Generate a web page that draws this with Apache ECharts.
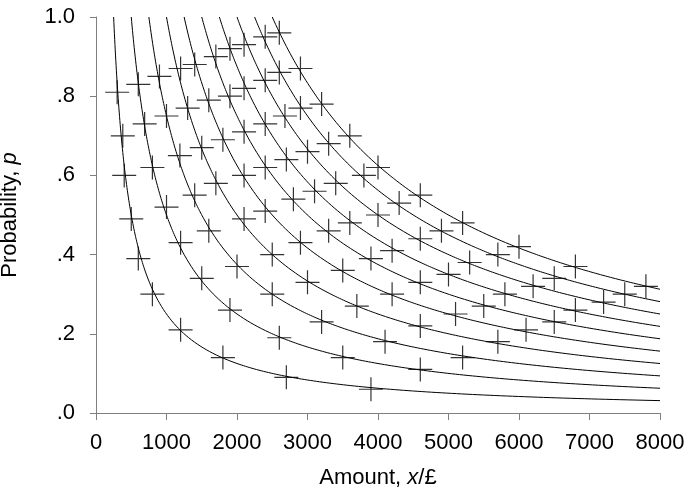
<!DOCTYPE html>
<html>
<head>
<meta charset="utf-8">
<script src="https://cdn.jsdelivr.net/npm/echarts@6/dist/echarts.min.js"></script>
<style>
  html, body { margin: 0; padding: 0; background: #fff; }
  #chart { width: 686px; height: 498px; }
</style>
</head>
<body>
<div id="chart"></div>
<script>
// indifference curves p = k / x, one per expected value k
const curveK = [250, 500, 750, 1000, 1250, 1500, 1750, 2000, 2250, 2500]

// crosses, one row per curve (same order as curveK)
const crossX = [
  [300, 380, 400, 500, 600, 800, 1200, 1800, 2700, 3900],
  [600, 690, 800, 1000, 1200, 1500, 1900, 2600, 3500, 4600],
  [900, 1000, 1190, 1400, 1600, 2000, 2500, 3200, 4100, 5200],
  [1200, 1300, 1500, 1700, 2100, 2500, 3000, 3700, 4600, 5700],
  [1400, 1600, 1800, 2100, 2400, 2900, 3500, 4200, 5100, 6100],
  [1700, 1900, 2100, 2400, 2800, 3300, 3900, 4600, 5500, 6500],
  [1900, 2100, 2400, 2700, 3100, 3600, 4200, 5000, 5800, 6800],
  [2100, 2400, 2680, 3000, 3400, 4000, 4600, 5300, 6200, 7200],
  [2400, 2600, 2900, 3300, 3800, 4300, 4900, 5700, 6500, 7500],
  [2600, 2900, 3200, 3600, 4000, 4600, 5200, 6000, 6800, 7800]
]
const crossP = [
  [0.81, 0.70, 0.60, 0.49, 0.39, 0.30, 0.21, 0.14, 0.09, 0.06],
  [0.83, 0.73, 0.62, 0.52, 0.43, 0.34, 0.26, 0.19, 0.14, 0.11],
  [0.85, 0.75, 0.65, 0.55, 0.46, 0.37, 0.30, 0.23, 0.18, 0.14],
  [0.87, 0.77, 0.67, 0.58, 0.49, 0.40, 0.33, 0.27, 0.22, 0.18],
  [0.88, 0.79, 0.69, 0.60, 0.51, 0.43, 0.36, 0.30, 0.25, 0.21],
  [0.90, 0.80, 0.71, 0.62, 0.54, 0.46, 0.39, 0.33, 0.27, 0.23],
  [0.92, 0.82, 0.73, 0.64, 0.56, 0.48, 0.41, 0.35, 0.30, 0.26],
  [0.93, 0.84, 0.75, 0.66, 0.58, 0.50, 0.44, 0.38, 0.32, 0.28],
  [0.95, 0.86, 0.77, 0.68, 0.60, 0.53, 0.46, 0.40, 0.34, 0.30],
  [0.96, 0.87, 0.78, 0.70, 0.62, 0.55, 0.48, 0.42, 0.37, 0.32]
]

const xMax = 8000
const font = '"Liberation Sans", Arial, sans-serif'
const axisGrey = '#7f7f7f'

const curveSeries = curveK.map(k => {
  // sample the hyperbola from p = 1 out to the right edge
  const pts = []
  const n = 240
  for (let i = 0; i <= n; i++) {
    const x = k * Math.pow(xMax / k, i / n)
    pts.push([x, k / x])
  }
  return {
    type: 'line',
    data: pts,
    showSymbol: false,
    symbol: 'none',
    silent: true,
    lineStyle: { color: '#000', width: 1 },
    z: 2
  }
})

const crossData = []
crossX.forEach((row, i) => {
  row.forEach((x, j) => crossData.push([x, crossP[i][j]]))
})

const chart = echarts.init(document.getElementById('chart'))
chart.setOption({
  animation: false,
  backgroundColor: '#fff',
  grid: { left: 96, right: 26, top: 17, bottom: 85, containLabel: false, outerBoundsMode: 'none' },
  xAxis: {
    type: 'value',
    min: 0,
    max: xMax,
    interval: 1000,
    name: 'Amount, {i|x}/£',
    nameLocation: 'middle',
    nameGap: 54,
    nameTextStyle: {
      fontFamily: font, fontSize: 22, color: '#000',
      rich: { i: { fontFamily: font, fontSize: 22, fontStyle: 'italic', color: '#000' } }
    },
    axisLine: { lineStyle: { color: axisGrey, width: 1 } },
    axisTick: { show: true, inside: false, length: 7, lineStyle: { color: axisGrey } },
    axisLabel: {
      fontFamily: font, fontSize: 22, color: '#000', margin: 19,
      formatter: v => String(v)
    },
    splitLine: { show: false }
  },
  yAxis: {
    type: 'value',
    min: 0,
    max: 1,
    interval: 0.2,
    name: 'Probability, {i|p}',
    nameLocation: 'middle',
    nameGap: 75,
    nameTextStyle: {
      fontFamily: font, fontSize: 22, color: '#000',
      rich: { i: { fontFamily: font, fontSize: 22, fontStyle: 'italic', color: '#000' } }
    },
    axisLine: { show: true, lineStyle: { color: axisGrey, width: 1 } },
    axisTick: { show: true, inside: false, length: 6, lineStyle: { color: axisGrey } },
    axisLabel: {
      fontFamily: font, fontSize: 22, color: '#000', margin: 21,
      formatter: v => v.toFixed(1).replace(/^0/, '')
    },
    splitLine: { show: false }
  },
  series: curveSeries.concat([{
    type: 'scatter',
    data: crossData,
    symbol: 'path://M0,12L24,12M12,0L12,24',
    symbolSize: 24,
    silent: true,
    itemStyle: { color: 'transparent', borderColor: '#000', borderWidth: 1.2 },
    z: 3
  }])
})
</script>
</body>
</html>
